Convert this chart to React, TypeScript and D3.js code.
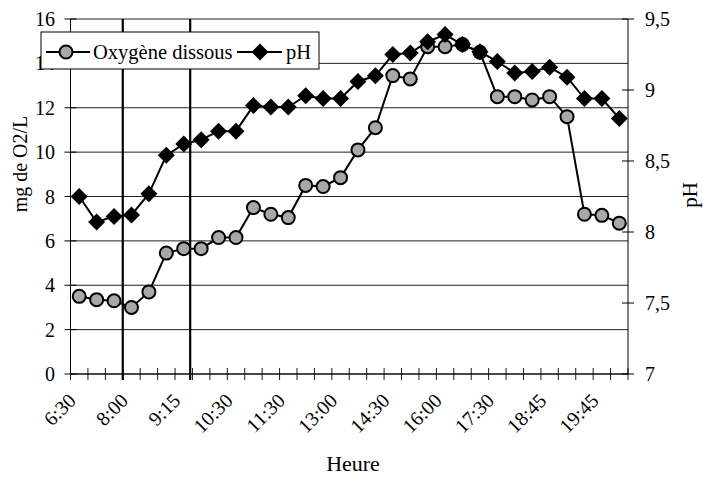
import * as d3 from "d3";

// sampling times (only every third one is labelled on the axis)
const times = [
  "6:30", "7:00", "7:30", "8:00", "8:30", "9:00", "9:15", "9:45",
  "10:00", "10:30", "10:50", "11:10", "11:30", "12:00", "12:30", "13:00",
  "13:30", "14:00", "14:30", "15:00", "15:30", "16:00", "16:30", "17:00",
  "17:30", "18:00", "18:15", "18:45", "19:00", "19:30", "19:45", "20:15",
];

// dissolved oxygen, mg O2/L (left axis)
const oxygen = [
  3.5, 3.35, 3.3, 3.0, 3.7, 5.45, 5.65, 5.65,
  6.15, 6.15, 7.5, 7.2, 7.05, 8.5, 8.45, 8.85,
  10.1, 11.1, 13.45, 13.3, 14.75, 14.75, 14.85, 14.5,
  12.5, 12.5, 12.35, 12.5, 11.6, 7.2, 7.15, 6.8,
];

// pH (right axis)
const ph = [
  8.25, 8.07, 8.11, 8.12, 8.27, 8.54, 8.62, 8.65,
  8.71, 8.71, 8.89, 8.88, 8.88, 8.96, 8.94, 8.94,
  9.06, 9.1, 9.25, 9.26, 9.34, 9.39, 9.32, 9.27,
  9.2, 9.12, 9.13, 9.16, 9.09, 8.94, 8.94, 8.8,
];

const o2Ticks = [0, 2, 4, 6, 8, 10, 12, 14, 16];
const phTicks = [7, 7.5, 8, 8.5, 9, 9.5];

// two vertical marker lines, in category units from the left edge
const markLines = [3, 6.87];

const W = 703;
const H = 479;
const left = 70.5;
const right = 628;
const top = 19;
const bottom = 374;
const font = "'Liberation Serif', 'Times New Roman', serif";

export default function App() {
  const x = d3.scaleBand<string>().domain(times).range([left, right]).padding(0);
  const yL = d3.scaleLinear().domain([0, 16]).range([bottom, top]);
  const yR = d3.scaleLinear().domain([7, 9.5]).range([bottom, top]);
  const bw = x.bandwidth();
  const cx = (i: number) => (x(times[i]) as number) + bw / 2;

  const o2Line = d3
    .line<number>()
    .x((_, i) => cx(i))
    .y((d) => yL(d));
  const phLine = d3
    .line<number>()
    .x((_, i) => cx(i))
    .y((d) => yR(d));

  const diamond = (s: number) => `M0,${-s}L${s},0L0,${s}L${-s},0Z`;
  const boundaries = d3.range(times.length + 1).map((k) => left + k * x.step());

  return (
    <svg
      width={W}
      height={H}
      style={{ position: "absolute", left: 0, top: 0, background: "#fff" }}
      fontFamily={font}
    >
      <rect width={W} height={H} fill="#fff" />

      {/* horizontal grid */}
      {o2Ticks.map((t) => (
        <line key={"g" + t} x1={left} x2={right} y1={yL(t)} y2={yL(t)} stroke="#222" strokeWidth={1} />
      ))}

      {/* marker verticals */}
      {markLines.map((m) => (
        <line
          key={"m" + m}
          x1={left + m * x.step()}
          x2={left + m * x.step()}
          y1={top}
          y2={bottom + 6}
          stroke="#000"
          strokeWidth={2.2}
        />
      ))}

      {/* axes */}
      <line x1={left} x2={left} y1={top} y2={bottom} stroke="#000" />
      <line x1={right} x2={right} y1={top} y2={bottom} stroke="#000" />
      <line x1={left} x2={right} y1={bottom} y2={bottom} stroke="#000" />

      {boundaries.map((bx, k) => (
        <line key={"xt" + k} x1={bx} x2={bx} y1={bottom - 6} y2={bottom + 6} stroke="#000" strokeWidth={0.9} />
      ))}
      {o2Ticks.map((t) => (
        <g key={"lt" + t}>
          <line x1={left - 6} x2={left + 6} y1={yL(t)} y2={yL(t)} stroke="#000" />
          <text x={55} y={yL(t)} dy="0.35em" textAnchor="end" fontSize={20}>
            {t}
          </text>
        </g>
      ))}
      {phTicks.map((t) => (
        <g key={"rt" + t}>
          <line x1={right - 6} x2={right + 6} y1={yR(t)} y2={yR(t)} stroke="#000" />
          <text x={645} y={yR(t)} dy="0.35em" textAnchor="start" fontSize={20}>
            {String(t).replace(".", ",")}
          </text>
        </g>
      ))}

      {times.map((t, i) =>
        i % 3 === 0 ? (
          <text
            key={"xl" + t}
            transform={`translate(${cx(i) - 7},${397}) rotate(-45)`}
            textAnchor="end"
            dominantBaseline="central"
            fontSize={20}
          >
            {t}
          </text>
        ) : null
      )}

      {/* axis titles */}
      <text x={353} y={471} textAnchor="middle" fontSize={22}>
        Heure
      </text>
      <text transform="translate(27,164) rotate(-90)" textAnchor="middle" fontSize={20}>
        mg de O2/L
      </text>
      <text transform="translate(697,195) rotate(-90)" textAnchor="middle" fontSize={21}>
        pH
      </text>

      {/* series */}
      <path d={o2Line(oxygen) ?? ""} fill="none" stroke="#000" strokeWidth={2} />
      {oxygen.map((v, i) => (
        <circle key={"o" + i} cx={cx(i)} cy={yL(v)} r={6.5} fill="#a8a8a8" stroke="#000" strokeWidth={2} />
      ))}
      <path d={phLine(ph) ?? ""} fill="none" stroke="#000" strokeWidth={2} />
      {ph.map((v, i) => (
        <path key={"p" + i} d={diamond(8.5)} transform={`translate(${cx(i)},${yR(v)})`} fill="#000" />
      ))}

      {/* legend */}
      <rect x={41} y={32} width={278} height={37} fill="#fff" stroke="#000" strokeWidth={1} />
      <line x1={46} x2={90} y1={52} y2={52} stroke="#000" strokeWidth={2} />
      <circle cx={66} cy={52} r={6.5} fill="#a8a8a8" stroke="#000" strokeWidth={2} />
      <text x={93} y={59} fontSize={20.5}>
        Oxygène dissous
      </text>
      <line x1={237} x2={282} y1={52} y2={52} stroke="#000" strokeWidth={2} />
      <path d={diamond(8.5)} transform="translate(260,52)" fill="#000" />
      <text x={286} y={59} fontSize={20.5}>
        pH
      </text>
    </svg>
  );
}
